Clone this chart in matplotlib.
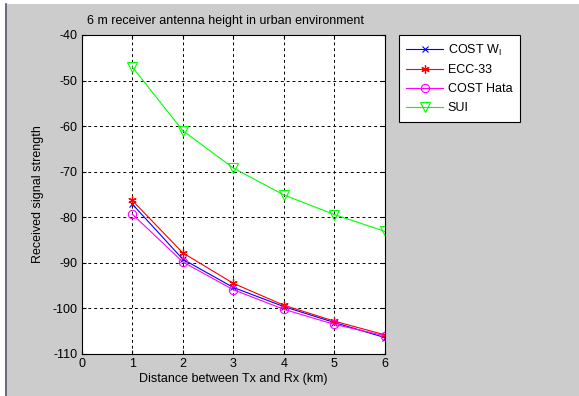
import matplotlib
matplotlib.use('Agg')
import matplotlib.pyplot as plt
from matplotlib.patches import Rectangle
from matplotlib.lines import Line2D

plt.rcParams['font.family'] = ['Liberation Sans', 'DejaVu Sans']
plt.rcParams['mathtext.fontset'] = 'custom'
plt.rcParams['mathtext.rm'] = 'Liberation Sans'
plt.rcParams['axes.unicode_minus'] = False

# distance (km) and received signal strength for each model
distance = [1, 2, 3, 4, 5, 6]
cost_wi = [-77.1, -89.2, -95.4, -99.6, -103.1, -106.4]
ecc33 = [-76.3, -87.8, -94.5, -99.3, -102.8, -105.8]
cost_hata = [-79.3, -89.8, -95.9, -100.2, -103.5, -106.0]
sui = [-47.0, -61.0, -69.2, -75.1, -79.4, -83.1]

xticks = [0, 1, 2, 3, 4, 5, 6]
yticks = [-110, -100, -90, -80, -70, -60, -50, -40]

bg = '#cccccc'
fig = plt.figure(figsize=(5.79, 3.96), dpi=100, facecolor=bg)
# white screenshot margins and the dark left border
fig.patches.append(Rectangle((0, 0), 5 / 579, 1, transform=fig.transFigure,
                             facecolor='white', edgecolor='none', zorder=0))
fig.patches.append(Rectangle((0, 1 - 4 / 396), 1, 4 / 396, transform=fig.transFigure,
                             facecolor='white', edgecolor='none', zorder=0))
fig.lines.append(Line2D([5.5 / 579, 5.5 / 579], [0, 1 - 4 / 396], transform=fig.transFigure,
                        color='#555a66', lw=1.2))

ax = fig.add_axes([81.7 / 579, 1 - 354 / 396, (385 - 81.7) / 579, (354 - 35) / 396])
ax.set_facecolor('white')

ax.plot(distance, cost_wi, color='#0000ff', lw=0.8, marker='x', ms=4, mew=0.8,
        label='COST W$_\\mathregular{I}$')
ax.plot(distance, ecc33, color='#ff0000', lw=0.8, marker=(6, 2, 0), ms=6, mew=0.9,
        label='ECC-33')
ax.plot(distance, cost_hata, color='#ff00ff', lw=0.8, marker='o', ms=6, mew=0.8,
        mfc='none', label='COST Hata')
ax.plot(distance, sui, color='#00ff00', lw=0.8, marker='v', ms=7, mew=0.8,
        mfc='none', label='SUI')

ax.set_xlim(0, 6)
ax.set_ylim(-110, -40)
ax.set_xticks(xticks)
ax.set_yticks(yticks)
ax.tick_params(direction='in', length=3, labelsize=9, colors='black', pad=3,
               top=True, right=True)
ax.grid(True, color='black', linestyle=(0, (3, 3)), lw=0.7)
for s in ax.spines.values():
    s.set_linewidth(0.8)

ax.set_xlabel('Distance between Tx and Rx (km)', fontsize=9, labelpad=2)
ax.set_ylabel('Received signal strength', fontsize=9, labelpad=6)
ax.text(0.018, 1.034, '6 m receiver antenna height in urban environment',
        transform=ax.transAxes, fontsize=9, ha='left', va='baseline')

leg = ax.legend(loc='upper left', bbox_to_anchor=(1.046, 1.0), fontsize=9,
                fancybox=False, edgecolor='black', framealpha=1,
                borderaxespad=0, handlelength=2.9, labelspacing=0.55,
                borderpad=0.6, handletextpad=0.4)
leg.get_frame().set_linewidth(0.8)

fig.savefig('out.png', dpi=100, facecolor=bg)
